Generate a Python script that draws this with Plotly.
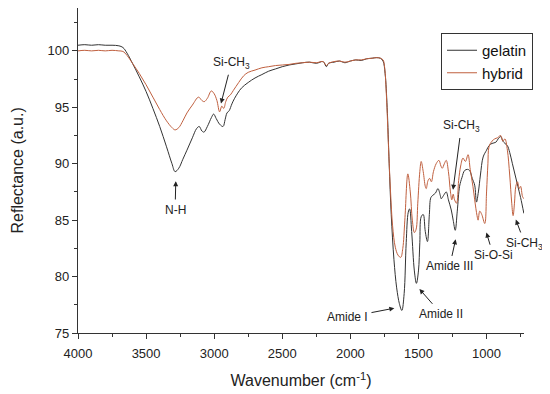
import plotly.graph_objects as go

# ---- data ----
gelatin_wn = [4000, 3950, 3900, 3850, 3800, 3750, 3700, 3670, 3640, 3600, 3550, 3500, 3450, 3400,
              3350, 3310, 3287, 3260, 3230, 3200, 3160, 3130, 3110, 3090, 3075, 3050, 3020, 3004,
              2985, 2960, 2935, 2920, 2906, 2890, 2870, 2850, 2800, 2750, 2700, 2650, 2600, 2550,
              2500, 2450, 2400, 2350, 2300, 2250, 2200, 2176, 2160, 2120, 2080, 2040, 2000, 1960,
              1920, 1880, 1840, 1810, 1780, 1760, 1745, 1730, 1715, 1700, 1680, 1660, 1640, 1622,
              1605, 1590, 1575, 1565, 1550, 1530, 1515, 1500, 1490, 1480, 1465, 1450, 1434, 1420,
              1409, 1395, 1375, 1357, 1340, 1333, 1315, 1296, 1280, 1259, 1245, 1230, 1215, 1198,
              1180, 1161, 1140, 1124, 1105, 1087, 1074, 1060, 1045, 1025, 1000, 982, 960, 932,
              915, 896, 880, 865, 847, 830, 810, 790, 770, 750, 726]
gelatin_r = [100.5, 100.55, 100.5, 100.55, 100.5, 100.5, 100.45, 100.3, 99.8, 98.9, 97.7, 96.4, 94.9, 93.3,
             91.5, 90.0, 89.3, 89.6, 90.4, 91.2, 92.3, 93.1, 93.3, 92.9, 92.8, 93.3, 94.1, 94.4,
             94.0, 93.5, 93.3, 93.9, 94.5, 94.7, 95.3, 95.8, 96.7, 97.2, 97.6, 97.9, 98.2, 98.4,
             98.6, 98.75, 98.85, 98.95, 99.0, 98.9, 99.05, 98.6, 98.9, 99.0, 99.1, 98.95, 99.1, 99.2,
             99.15, 99.3, 99.35, 99.4, 99.35, 99.1, 98.0, 95.0, 90.0, 85.5, 81.5, 79.0, 77.6, 77.0,
             78.5, 83.0, 85.7, 86.0, 84.0, 80.5, 79.4, 80.5, 83.0, 85.3, 85.5, 84.0, 83.1, 85.5,
             87.0, 87.2, 87.4, 87.8, 87.2, 86.9, 87.2, 87.5, 86.8, 85.9, 85.0, 84.1, 85.8, 88.0,
             88.8, 89.4, 89.5, 89.4, 88.7, 88.1, 86.6, 87.5, 89.0, 90.6, 91.2, 91.6, 91.8, 91.9,
             92.2, 92.4, 92.0, 91.8, 91.6, 91.0, 90.0, 89.0, 88.0, 87.0, 85.6]

hybrid_wn = [4000, 3950, 3900, 3850, 3800, 3750, 3700, 3670, 3640, 3600, 3550, 3500, 3450, 3400,
             3350, 3310, 3287, 3260, 3230, 3200, 3160, 3115, 3090, 3073, 3050, 3021, 3000, 2980,
             2960, 2944, 2930, 2915, 2900, 2881, 2859, 2820, 2783, 2750, 2700, 2650, 2600, 2550,
             2500, 2450, 2400, 2350, 2300, 2250, 2200, 2176, 2160, 2120, 2080, 2040, 2000, 1960,
             1920, 1880, 1840, 1810, 1780, 1760, 1748, 1735, 1720, 1705, 1690, 1670, 1650, 1630,
             1615, 1600, 1578, 1560, 1545, 1530, 1517, 1505, 1490, 1480, 1465, 1450, 1443, 1430,
             1418, 1405, 1390, 1370, 1350, 1335, 1325, 1310, 1296, 1280, 1265, 1255, 1245, 1235,
             1220, 1205, 1190, 1173, 1155, 1136, 1120, 1100, 1087, 1070, 1062, 1050, 1035, 1013,
             1000, 990, 982, 960, 940, 920, 896, 880, 865, 847, 830, 815, 805, 795, 785, 773,
             760, 750, 736, 726]
hybrid_r = [100.0, 100.05, 100.0, 100.05, 100.0, 100.05, 100.0, 99.95, 99.6, 98.9, 98.0, 97.0, 95.9, 94.8,
            93.8, 93.2, 93.0, 93.2, 93.8, 94.5, 95.2, 95.9, 95.6, 95.5, 95.8, 96.45, 96.2, 95.6,
            94.6, 95.1, 94.9, 95.5, 95.9, 96.1, 96.5, 97.2, 97.8, 98.1, 98.3, 98.5, 98.6, 98.7,
            98.75, 98.8, 98.9, 98.95, 99.0, 98.95, 99.05, 98.7, 98.9, 99.05, 99.1, 99.0, 99.1, 99.2,
            99.2, 99.3, 99.35, 99.4, 99.35, 99.2, 98.5, 96.0, 91.5, 87.5, 84.5, 82.6, 81.9, 81.7,
            82.5, 85.0, 89.1, 87.5, 85.0, 83.9, 84.2, 86.5, 89.3, 90.2, 89.3, 88.0, 87.8, 88.5,
            88.7, 88.4, 89.3, 90.0, 90.3, 89.8, 89.6, 90.0, 90.3, 89.3, 87.5, 86.8, 87.3, 86.8,
            86.5, 88.5, 89.8, 90.5, 90.2, 90.8, 89.5, 88.0, 86.8, 85.4, 85.0, 85.8, 85.5, 84.7,
            87.5, 90.0, 91.5, 92.0, 92.2, 92.3, 92.5, 92.0, 92.2, 91.2, 89.0, 86.5, 85.4, 86.5, 88.0, 88.4,
            87.8, 88.0, 87.1, 86.9]

x_ticks = [4000, 3500, 3000, 2500, 2000, 1500, 1000]
y_ticks = [75, 80, 85, 90, 95, 100]

# peak labels: text, label centre (data), arrow tip (data)
label_texts = ["N-H", "Si-CH<sub>3</sub>", "Si-CH<sub>3</sub>", "Amide I", "Amide II",
               "Amide III", "Si-O-Si", "Si-CH<sub>3</sub>"]
label_x = [3287, 2874, 1185, 2021, 1333, 1271, 951, 718]
label_y = [85.9, 98.9, 93.3, 76.4, 76.7, 80.9, 81.9, 82.9]
tip_x = [3282, 2950, 1246, 1677, 1493, 1227, 1001, 785]
tip_y = [88.45, 95.34, 87.7, 77.2, 78.9, 83.3, 83.9, 85.05]

FONT = "Liberation Sans, Arial, sans-serif"
AXC = "#333333"

# the page body adds an 8px offset, so the figure is 8px smaller than the window
W, H = 542, 386
ML, MR, MT, MB = 70, 26, 0, 61
PW, PH = W - ML - MR, H - MT - MB

fig = go.Figure()
fig.add_trace(go.Scatter(x=gelatin_wn, y=gelatin_r, mode="lines", name="gelatin",
                         line=dict(color="#333333", width=1), line_shape="spline"))
fig.add_trace(go.Scatter(x=hybrid_wn, y=hybrid_r, mode="lines", name="hybrid",
                         line=dict(color="#c0603f", width=1), line_shape="spline"))

annotations = []
for t, lx, ly, tx, ty in zip(label_texts, label_x, label_y, tip_x, tip_y):
    annotations.append(dict(text=t, xref="x", yref="y", x=tx, y=ty,
                            axref="x", ayref="y", ax=lx, ay=ly,
                            showarrow=True, arrowhead=2, arrowsize=1, arrowwidth=1,
                            arrowcolor="#222", standoff=0, startstandoff=2,
                            font=dict(size=12, family=FONT, color="#222")))
# y axis title
annotations.append(dict(text="Reflectance (a.u.)", xref="paper", yref="paper",
                        x=(9 - ML) / PW, y=0.5, xanchor="center", yanchor="middle",
                        textangle=-90, showarrow=False,
                        font=dict(size=16, family=FONT, color="#222")))

fig.update_layout(
    width=W, height=H,
    margin=dict(l=ML, r=MR, t=MT, b=MB, pad=0),
    paper_bgcolor="white", plot_bgcolor="white",
    font=dict(family=FONT, color="#222", size=13),
    showlegend=True,
    legend=dict(x=(433 - ML) / PW, y=(PH - 25) / PH, xanchor="left", yanchor="top",
                bordercolor=AXC, borderwidth=1, bgcolor="white",
                font=dict(size=15, family=FONT, color="#111"),
                itemwidth=30, tracegroupgap=0),
    annotations=annotations,
)
fig.update_xaxes(range=[4000, 725], tickvals=x_ticks, ticks="outside", ticklen=5, tickwidth=1.3,
                 tickcolor=AXC, showline=True, linecolor=AXC, linewidth=1.3, showgrid=False,
                 zeroline=False, tickfont=dict(size=13), automargin=False, ticklabelstandoff=3,
                 minor=dict(dtick=250, tick0=0, ticks="outside", ticklen=3, tickcolor=AXC, showgrid=False),
                 title=dict(text="Wavenumber (cm<sup>-1</sup>)", font=dict(size=16)))
fig.update_yaxes(range=[75, 103.8], tickvals=y_ticks, ticks="outside", ticklen=5, tickwidth=1.3,
                 tickcolor=AXC, showline=True, linecolor=AXC, linewidth=1.3, showgrid=False,
                 zeroline=False, tickfont=dict(size=13), automargin=False,
                 minor=dict(dtick=2.5, tick0=0, ticks="outside", ticklen=3, tickcolor=AXC, showgrid=False))

fig.write_html("out.html")
